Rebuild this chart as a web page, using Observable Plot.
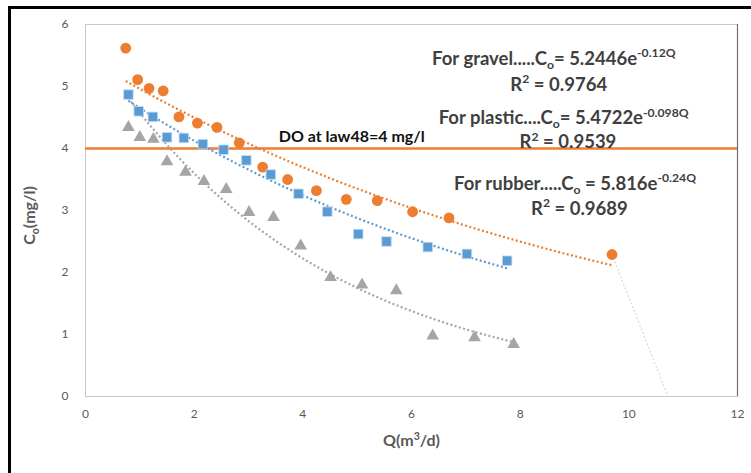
<!DOCTYPE html>
<html><head><meta charset="utf-8">
<script src="https://cdn.jsdelivr.net/npm/d3@7"></script>
<script src="https://cdn.jsdelivr.net/npm/@observablehq/plot@0.6"></script>
<style>
html,body{margin:0;padding:0;background:#fff;}
#wrap{position:relative;width:751px;height:473px;overflow:hidden;background:#fff;}
#chart{position:absolute;left:0;top:0;}
#frame{position:absolute;left:8px;top:6px;width:760px;height:480px;border-left:3px solid #000;border-top:3px solid #000;pointer-events:none;}
</style></head><body>
<div id="wrap"><div id="chart"></div><div id="frame"></div></div>
<script>
// ---- data ----
const orangeQ = [0.74, 0.96, 1.17, 1.43, 1.72, 2.06, 2.42, 2.83, 3.26, 3.72, 4.25, 4.80, 5.37, 6.02, 6.69, 9.69];
const orangeC = [5.62, 5.11, 4.97, 4.93, 4.51, 4.41, 4.34, 4.09, 3.70, 3.50, 3.32, 3.18, 3.16, 2.98, 2.88, 2.29];
const blueQ   = [0.79, 0.98, 1.24, 1.50, 1.81, 2.16, 2.54, 2.96, 3.41, 3.92, 4.45, 5.02, 5.54, 6.30, 7.02, 7.76];
const blueC   = [4.87, 4.60, 4.51, 4.18, 4.17, 4.07, 3.98, 3.81, 3.58, 3.27, 2.98, 2.62, 2.50, 2.41, 2.30, 2.19];
const grayQ   = [0.79, 1.00, 1.25, 1.50, 1.84, 2.18, 2.59, 3.01, 3.46, 3.96, 4.51, 5.09, 5.72, 6.39, 7.16, 7.88];
const grayC   = [4.34, 4.18, 4.15, 3.79, 3.62, 3.47, 3.34, 2.97, 2.89, 2.43, 1.92, 1.80, 1.71, 0.98, 0.95, 0.84];

// exponential trendline coefficients shown in the chart (C = a * e^(-b Q))
const trendA = [5.4722, 5.2446, 5.816];   // orange, blue, gray
const trendB = [0.098, 0.12, 0.24];

// faint dotted connector at the right
const faintQ = [9.69, 10.72];
const faintC = [2.29, 0];

const doLevel = 4;
const xTicks = [0, 2, 4, 6, 8, 10, 12];
const yTicks = [0, 1, 2, 3, 4, 5, 6];

const eqMarkup = [
  "For gravel.....C_{o}= 5.2446e^{-0.12Q}",
  "R^{2} = 0.9764",
  "For plastic....C_{o}= 5.4722e^{-0.098Q}",
  "R^{2} = 0.9539",
  "For rubber.....C_{o} = 5.816e^{-0.24Q}",
  "R^{2} = 0.9689"
];
const eqX = [8.62, 8.71, 8.80, 8.88, 9.01, 9.09];
const eqY = [5.45, 5.03, 4.49, 4.10, 3.43, 3.03];
const doLabel = "DO at law48=4 mg/l";
const xTitle = "Q(m^{3}/d)";
const yTitle = "C_{o}(mg/l)";

// ---- build tables ----
const toRows = (qs, cs) => qs.map((q, i) => ({Q: q, C: cs[i]}));
const orange = toRows(orangeQ, orangeC);
const blue = toRows(blueQ, blueC);
const gray = toRows(grayQ, grayC);
const faint = toRows(faintQ, faintC);
function trend(qs, a, b) {
  const q0 = d3.min(qs), q1 = d3.max(qs), n = 80;
  return d3.range(n + 1).map(i => { const q = q0 + (q1 - q0) * i / n; return {Q: q, C: a * Math.exp(-b * q)}; });
}
const tOrange = trend(orangeQ, trendA[0], trendB[0]);
const tBlue = trend(blueQ, trendA[1], trendB[1]);
const tGray = trend(grayQ, trendA[2], trendB[2]);
const strip = s => s.replace(/[_^]\{([^}]*)\}/g, "$1");
const eqRows = eqMarkup.map((m, i) => ({x: eqX[i], y: eqY[i], t: strip(m)}));

const ORANGE = "#ED7D31", BLUE = "#5B9BD5", GRAY = "#A5A5A5";
const dots = {strokeDasharray: "2,2.4", strokeWidth: 2.2, strokeLinecap: "butt"};
const EQ_FS = 18.5, TITLE_FS = 16;

const svg = Plot.plot({
  width: 751, height: 473,
  marginLeft: 85, marginRight: 14, marginTop: 24, marginBottom: 77,
  x: {domain: [0, 12], label: null},
  y: {domain: [0, 6], label: null},
  style: {fontFamily: "Lato, 'Open Sans', sans-serif", fontSize: "12px", color: "#595959", background: "transparent", overflow: "visible"},
  marks: [
    Plot.frame({stroke: "#c8c8c8"}),
    Plot.ruleX([12], {stroke: "#6e6e6e", strokeWidth: 1.2}),
    Plot.axisX({ticks: xTicks, tickSize: 0, tickPadding: 13, fontSize: 12, tickFormat: d => String(d)}),
    Plot.axisY({ticks: yTicks, tickSize: 0, tickPadding: 17, fontSize: 12, tickFormat: d => String(d)}),
    Plot.ruleY([doLevel], {stroke: ORANGE, strokeWidth: 2.5}),
    Plot.line(faint, {x: "Q", y: "C", stroke: "#d6d6d6", strokeWidth: 1.2, strokeDasharray: "1,3"}),
    Plot.line(tOrange, {x: "Q", y: "C", stroke: ORANGE, ...dots}),
    Plot.line(tBlue, {x: "Q", y: "C", stroke: BLUE, ...dots}),
    Plot.line(tGray, {x: "Q", y: "C", stroke: GRAY, ...dots}),
    Plot.dot(orange, {x: "Q", y: "C", r: 5.4, fill: ORANGE, symbol: "circle"}),
    Plot.dot(blue, {x: "Q", y: "C", r: 5.4, fill: BLUE, stroke: "#c9dcef", strokeWidth: 0.8, symbol: "square"}),
    Plot.dot(gray, {x: "Q", y: "C", r: 4.7, fill: GRAY, symbol: "triangle"}),
    Plot.text(eqRows, {x: "x", y: "y", text: "t", fontSize: EQ_FS, fontWeight: "bold", fill: "#3f3f3f", textAnchor: "middle"}),
    Plot.text([doLabel], {x: 4.9, y: 4.18, text: d => d, fontSize: 16, fontWeight: "bold", fill: "#111", textAnchor: "middle"}),
    Plot.text([strip(xTitle)], {x: 6, y: -0.72, text: d => d, fontSize: TITLE_FS, fontWeight: "bold", fill: "#595959", textAnchor: "middle"}),
    Plot.text([strip(yTitle)], {x: -1.02, y: 2.92, text: d => d, fontSize: TITLE_FS, fontWeight: "bold", fill: "#595959", textAnchor: "middle", rotate: -90})
  ]
});

function rich(el, markup, fs) {
  while (el.firstChild) el.removeChild(el.firstChild);
  const parts = markup.split(/(_\{[^}]*\}|\^\{[^}]*\})/).filter(s => s.length);
  let shift = 0;
  for (const p of parts) {
    const t = document.createElementNS("http://www.w3.org/2000/svg", "tspan");
    let target = 0, txt = p, small = false;
    if (p.startsWith("_{")) { target = 0.22 * fs; txt = p.slice(2, -1); small = true; }
    else if (p.startsWith("^{")) { target = -0.4 * fs; txt = p.slice(2, -1); small = true; }
    if (target !== shift) t.setAttribute("dy", String(target - shift));
    shift = target;
    if (small) t.setAttribute("font-size", String(0.66 * fs));
    t.textContent = txt;
    el.appendChild(t);
  }
}
const richList = [
  ...eqMarkup.map(m => [m, EQ_FS]),
  [xTitle, TITLE_FS],
  [yTitle, TITLE_FS]
];
svg.querySelectorAll("text").forEach(el => {
  const txt = el.textContent;
  const hit = richList.find(([m]) => strip(m) === txt);
  if (hit) rich(el, hit[0], hit[1]);
});

document.getElementById("chart").appendChild(svg);
</script>
</body></html>
